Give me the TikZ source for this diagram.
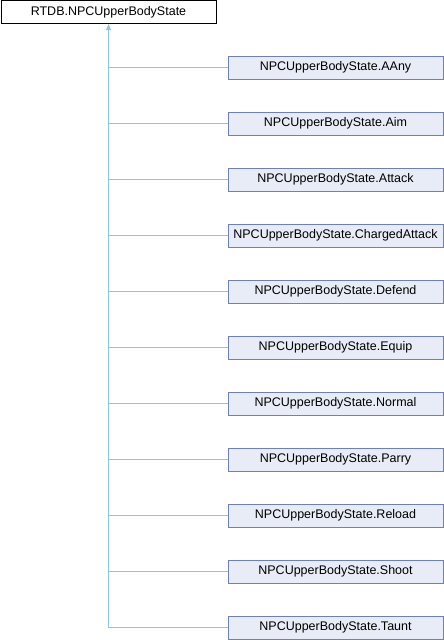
\documentclass[tikz,border=0pt]{standalone}
\usepackage{fontspec}
\setmainfont{Liberation Sans}
\usetikzlibrary{arrows.meta}
\definecolor{edgeblue}{HTML}{8CC6EC}
\definecolor{boxline}{HTML}{6F80B8}
\definecolor{boxfill}{HTML}{E8ECF6}
\tikzset{
  base/.style={draw=black, fill=white, line width=1pt, minimum width=215pt,
    minimum height=23pt, inner sep=0pt, font=\fontsize{12.5}{14}\selectfont},
  derived/.style={base, draw=boxline, fill=boxfill},
  edge/.style={edgeblue, line width=1pt}
}
\begin{document}
\begin{tikzpicture}[x=1pt, y=-1pt, >={Triangle[length=6pt, width=5pt]}]
  % page size of the reference
  \useasboundingbox (0,0) rectangle (444,640);
  % Base class
  \node[base] (root) at (108.5,12) {RTDB.NPCUpperBodyState};
  % Derived classes, one every 56px
  \foreach \name/\label [count=\i from 0] in {aany/AAny, aim/Aim, attack/Attack,
      chargedattack/ChargedAttack, defend/Defend, equip/Equip, normal/Normal,
      parry/Parry, reload/Reload, shoot/Shoot, taunt/Taunt} {
    \node[derived] (\name) at (335.5,{67.5+56*\i}) {NPCUpperBodyState.\label};
  }
  % Trunk with arrow up to the base class
  \draw[edge, ->] (taunt.west) -| (root.south);
  % Branches to the trunk
  \foreach \name in {aany, aim, attack, chargedattack, defend, equip, normal,
      parry, reload, shoot} {
    \draw[edge] (\name.west) -- (\name.west -| root.south);
  }
\end{tikzpicture}
\end{document}
